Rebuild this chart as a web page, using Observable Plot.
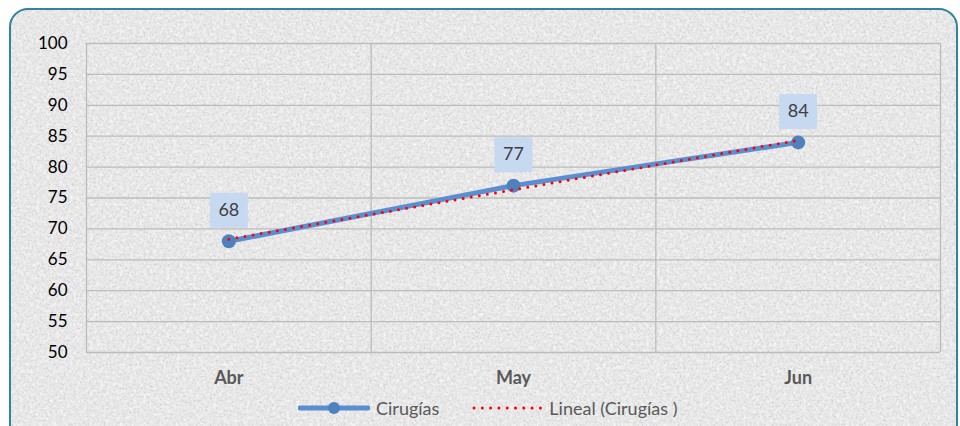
<!DOCTYPE html>
<html>
<head>
<meta charset="utf-8">
<script src="https://cdn.jsdelivr.net/npm/d3@7"></script>
<script src="https://cdn.jsdelivr.net/npm/@observablehq/plot@0.6"></script>
<style>
  body { margin: 0; background: #fff; }
  #wrap { position: relative; width: 960px; height: 426px; overflow: hidden; font-family: Lato, "Open Sans", sans-serif; }
  #bg, #chart, #legend { position: absolute; left: 0; top: 0; }
  #legend { top: 397px; left: 298px; display: flex; align-items: center; font-size: 18px; color: #595959; white-space: nowrap; }
  #legend .item { display: flex; align-items: center; margin-right: 32px; }
  #legend svg { margin-right: 6px; }
</style>
</head>
<body>
<div id="wrap">
  <svg id="bg" width="960" height="426">
    <defs>
      <filter id="noise" x="0" y="0" width="100%" height="100%">
        <feTurbulence type="fractalNoise" baseFrequency="0.5" numOctaves="3" seed="7"/>
        <feColorMatrix type="matrix" values="0 0 0 0 0.55  0 0 0 0 0.55  0 0 0 0 0.55  1.6 0 0 0 -0.68"/>
      </filter>
      <filter id="noise2" x="0" y="0" width="100%" height="100%">
        <feTurbulence type="fractalNoise" baseFrequency="0.3" numOctaves="2" seed="19"/>
        <feColorMatrix type="matrix" values="0 0 0 0 1  0 0 0 0 1  0 0 0 0 1  1.6 0 0 0 -0.7"/>
      </filter>
      <clipPath id="clip"><rect x="10" y="9" width="947" height="440" rx="18"/></clipPath>
    </defs>
    <g clip-path="url(#clip)">
      <rect x="0" y="0" width="960" height="450" fill="#e9e9e9"/>
      <rect x="0" y="0" width="960" height="450" filter="url(#noise)"/>
      <rect x="0" y="0" width="960" height="450" filter="url(#noise2)"/>
    </g>
    <rect x="10" y="9" width="947" height="440" rx="18" fill="none" stroke="#31849b" stroke-width="2"/>
  </svg>
  <div id="chart"></div>
  <div id="legend">
    <div class="item">
      <svg width="72" height="14"><line x1="2" y1="7" x2="70" y2="7" stroke="#5a8ed0" stroke-width="5" stroke-linecap="round"/><circle cx="36" cy="7" r="6" fill="#4f81bd"/></svg>
      <span>Cirugías</span>
    </div>
    <div class="item">
      <svg width="72" height="14"><line x1="3" y1="7" x2="70" y2="7" stroke="#ff0000" stroke-width="3" stroke-dasharray="0 8.3" stroke-linecap="round"/></svg>
      <span>Lineal (Cirugías )</span>
    </div>
  </div>
</div>
<script>
const months = ["Abr", "May", "Jun"];
const cirugias = [68, 77, 84];
const yTicks = [50, 55, 60, 65, 70, 75, 80, 85, 90, 95, 100];
const catBounds = [0.5, 1.5, 2.5, 3.5];

const data = months.map((m, i) => ({idx: i + 1, month: m, value: cirugias[i]}));

const rectSymbol = {
  draw(context) { context.rect(-19, -17.5, 38, 35); }
};

const chart = Plot.plot({
  width: 960,
  height: 426,
  marginLeft: 86,
  marginRight: 20,
  marginTop: 43,
  marginBottom: 74,
  style: {background: "transparent", fontFamily: "Lato, 'Open Sans', sans-serif", overflow: "visible"},
  x: {type: "linear", domain: [0.5, 3.5], axis: null, label: null},
  y: {domain: [50, 100], axis: null, label: null},
  marks: [
    Plot.ruleY(yTicks, {stroke: "#bcbcbc", strokeWidth: 1.3}),
    Plot.ruleX(catBounds, {y1: 50, y2: 100, stroke: "#bcbcbc", strokeWidth: 1.3}),
    Plot.axisY(yTicks, {tickSize: 0, tickPadding: 19, fontSize: 17, fill: "#000", label: null, tickFormat: d => String(d)}),
    Plot.axisX(data.map(d => d.idx), {tickSize: 0, tickPadding: 19, fontSize: 18, fontWeight: "bold", fill: "#595959", label: null, tickFormat: d => months[d - 1]}),
    Plot.line(data, {x: "idx", y: "value", stroke: "#5a8ed0", strokeWidth: 5, strokeLinecap: "round"}),
    Plot.dot(data, {x: "idx", y: "value", r: 7, fill: "#4f81bd"}),
    Plot.linearRegressionY(data, {x: "idx", y: "value", ci: 0, stroke: "#ff0000", strokeWidth: 3, strokeDasharray: "0 8.2", strokeLinecap: "round"}),
    Plot.dot(data, {x: "idx", y: "value", symbol: rectSymbol, fill: "#c6d9f1", stroke: "none", dy: -31}),
    Plot.text(data, {x: "idx", y: "value", text: d => String(d.value), dy: -31, fontSize: 18, fill: "#404040"})
  ]
});
document.getElementById("chart").appendChild(chart);
</script>
</body>
</html>
